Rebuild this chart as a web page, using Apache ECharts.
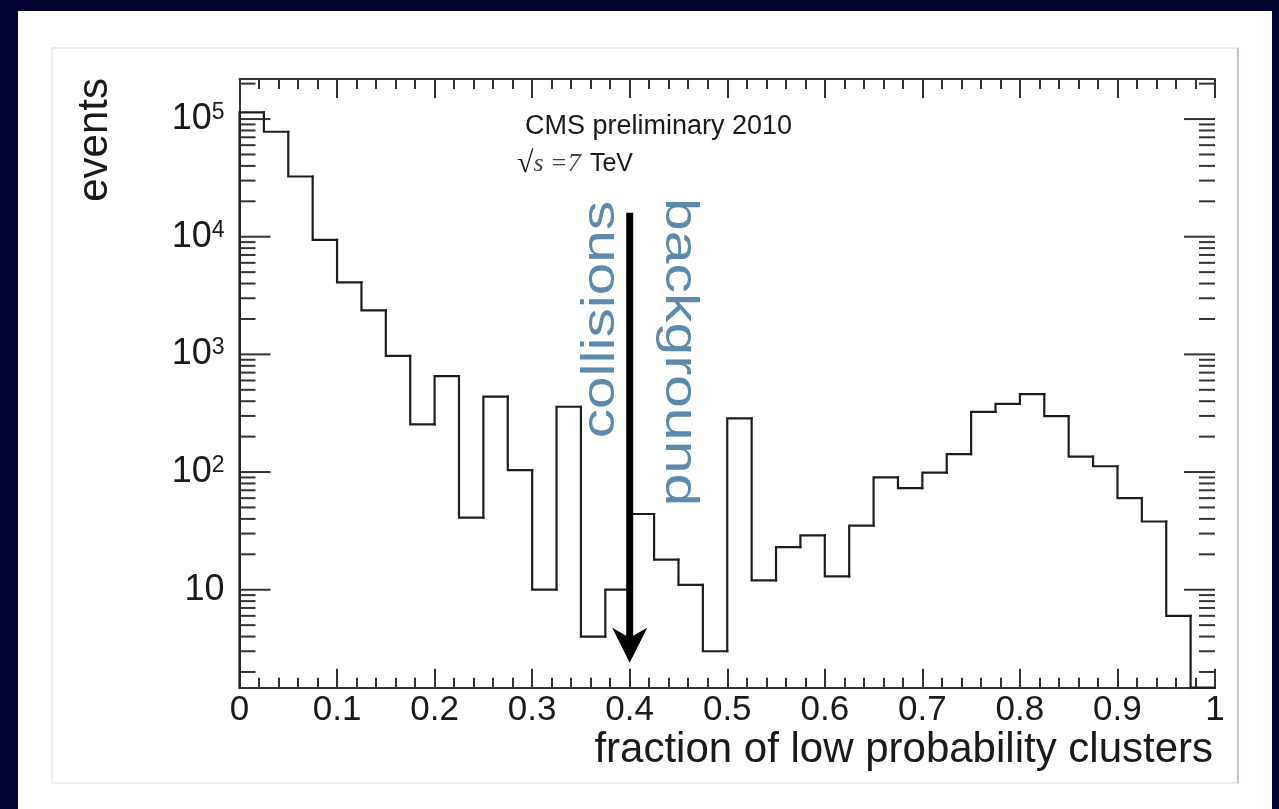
<!DOCTYPE html>
<html>
<head>
<meta charset="utf-8">
<script src="https://cdn.jsdelivr.net/npm/echarts@6/dist/echarts.min.js"></script>
<style>
  html, body { margin: 0; padding: 0; background: #030330; width: 1279px; height: 809px; overflow: hidden; }
  #main { position: absolute; left: 18px; top: 11px; width: 1254px; height: 798px; background: #fff; }
</style>
</head>
<body>
<div id="main"></div>
<script>
// histogram: 40 bins of width 0.025 on [0, 1]
const binWidth = 0.025;
const counts = [114000, 78000, 32500, 9400, 4100, 2370, 970, 254, 653, 41,
                438, 104, 10, 359, 4, 10, 44, 18, 11, 3,
                286, 12, 23, 29, 13, 35, 90, 73, 99, 142,
                325, 379, 460, 299, 135, 112, 60, 38, 6, 0];

// axis ranges and ticks
const yMin = 1.47, yMax = 2.19e5;
const yMajorTicks = [10, 100, 1000, 10000, 100000];
const yMinorMult = [2, 3, 4, 5, 6, 7, 8, 9];
const yDecades = [1, 10, 100, 1000, 10000, 100000];

// collisions / background arrow at x = 0.4
const arrowX = 0.4, arrowTop = 16000, arrowTip = 2.4;

const axisColor = '#333';
const textColor = '#1a1a1a';
const font = 'Liberation Sans, Arial, sans-serif';

let yMinorTicks = [];
yDecades.forEach(d => yMinorMult.forEach(m => {
  const v = m * d;
  if (v > yMin && v < yMax) yMinorTicks.push(v);
}));

const tickData = yMajorTicks.map(v => [0.5, v, 31]).concat(yMinorTicks.map(v => [0.5, v, 16]));
const histData = counts.map((c, i) => [i * binWidth, (i + 1) * binWidth, c]);

let chart = echarts.init(document.getElementById('main'));

function renderHist(params, api) {
  const i = params.dataIndex;
  const cs = params.coordSys;
  const bottom = cs.y + cs.height;
  const yOf = v => (v > 0 ? api.coord([0, v])[1] : bottom);
  const x0 = api.coord([api.value(0), 1])[0];
  const x1 = api.coord([api.value(1), 1])[0];
  const v = api.value(2);
  const prev = i > 0 ? counts[i - 1] : 0;
  return {
    type: 'polyline',
    shape: { points: [[x0, yOf(prev)], [x0, yOf(v)], [x1, yOf(v)]] },
    style: { stroke: '#1e1e1e', lineWidth: 2.2, fill: null, lineJoin: 'miter', lineCap: 'square' }
  };
}

function renderTick(params, api) {
  const cs = params.coordSys;
  const y = api.coord([0.5, api.value(1)])[1];
  const len = api.value(2);
  const st = { stroke: axisColor, lineWidth: 2 };
  return {
    type: 'group',
    children: [
      { type: 'line', shape: { x1: cs.x, y1: y, x2: cs.x + len, y2: y }, style: st },
      { type: 'line', shape: { x1: cs.x + cs.width - len, y1: y, x2: cs.x + cs.width, y2: y }, style: st }
    ]
  };
}

function renderArrow(params, api) {
  const top = api.coord([api.value(0), api.value(1)]);
  const tip = api.coord([api.value(0), api.value(2)]);
  const cx = tip[0];
  return {
    type: 'group',
    children: [
      { type: 'rect', shape: { x: cx - 3.5, y: top[1], width: 7, height: tip[1] - top[1] - 24 }, style: { fill: '#000' } },
      { type: 'polygon', shape: { points: [[cx, tip[1]], [cx + 17.5, tip[1] - 35], [cx, tip[1] - 25], [cx - 17.5, tip[1] - 35]] }, style: { fill: '#000' } }
    ]
  };
}

const option = {
  animation: false,
  textStyle: { fontFamily: font },
  grid: { left: 221.5, right: 57, top: 68, bottom: 121.3 },
  xAxis: [
    {
      type: 'value', min: 0, max: 1, interval: 0.1, position: 'bottom',
      axisLine: { lineStyle: { color: axisColor, width: 2 } },
      axisTick: { inside: true, length: 19, lineStyle: { color: axisColor, width: 2 } },
      minorTick: { show: true, splitNumber: 5, length: 10, lineStyle: { color: axisColor, width: 2 } },
      splitLine: { show: false },
      axisLabel: { color: textColor, fontSize: 35, margin: 5, fontFamily: font },
      name: 'fraction of low probability clusters',
      nameLocation: 'end', nameGap: 0,
      nameTextStyle: { color: textColor, fontSize: 42, fontFamily: font, align: 'right', verticalAlign: 'top', padding: [42, 2, 0, 0] }
    },
    {
      type: 'value', min: 0, max: 1, interval: 0.1, position: 'top',
      axisLine: { lineStyle: { color: axisColor, width: 2 } },
      axisTick: { inside: true, length: 19, lineStyle: { color: axisColor, width: 2 } },
      minorTick: { show: true, splitNumber: 5, length: 10, lineStyle: { color: axisColor, width: 2 } },
      splitLine: { show: false },
      axisLabel: { show: false }
    }
  ],
  yAxis: [
    {
      type: 'log', logBase: 10, min: yMin, max: yMax, position: 'left',
      axisLine: { show: true, lineStyle: { color: axisColor, width: 2 } },
      axisTick: { show: false },
      splitLine: { show: false },
      axisLabel: {
        color: textColor, fontSize: 36, lineHeight: 36, margin: 15, fontFamily: font,
        showMinLabel: false, showMaxLabel: false,
        formatter: function (v) {
          const l = Math.log10(v);
          const e = Math.round(l);
          if (Math.abs(l - e) > 1e-6) return '';
          if (e === 1) return '10';
          return '10{sup|' + e + '}';
        },
        rich: { sup: { fontSize: 23, lineHeight: 12, verticalAlign: 'top', color: textColor, fontFamily: font } }
      }
    },
    {
      type: 'log', logBase: 10, min: yMin, max: yMax, position: 'right',
      axisLine: { show: true, lineStyle: { color: axisColor, width: 2 } },
      axisTick: { show: false },
      splitLine: { show: false },
      axisLabel: { show: false }
    }
  ],
  series: [
    { type: 'custom', name: 'ticks', renderItem: renderTick, data: tickData, encode: { x: 0, y: 1 }, silent: true, z: 3 },
    { type: 'custom', name: 'events', renderItem: renderHist, data: histData, encode: { x: [0, 1], y: 2 }, z: 4 },
    { type: 'custom', name: 'arrow', renderItem: renderArrow, data: [[arrowX, arrowTop, arrowTip]], encode: { x: 0, y: [1, 2] }, silent: true, z: 5 }
  ],
  graphic: [
    { type: 'rect', z: -1, shape: { x: 34, y: 37, width: 1186, height: 735 }, style: { fill: null, stroke: '#e6e6ea', lineWidth: 1.5 } },
    { type: 'line', z: -1, shape: { x1: 1220, y1: 37, x2: 1220, y2: 772 }, style: { stroke: '#c4c4d6', lineWidth: 2 } },
    {
      type: 'text', x: 77.4, y: 67, rotation: Math.PI / 2,
      style: { text: 'events', fontSize: 42, fontFamily: font, fill: textColor, align: 'right', verticalAlign: 'middle' }
    },
    {
      type: 'text', x: 507, y: 116,
      style: { text: 'CMS preliminary 2010', fontSize: 27, fontFamily: font, fill: textColor, align: 'left', verticalAlign: 'middle' }
    },
    {
      type: 'text', x: 499, y: 153,
      style: {
        text: '{r|√}{it|s =7} {n|TeV}', align: 'left', verticalAlign: 'middle',
        rich: {
          r: { fontSize: 30, fontFamily: 'Liberation Serif, serif', fill: '#111', fontWeight: 'bold' },
          it: { fontSize: 26, fontFamily: 'Liberation Serif, serif', fontStyle: 'italic', fill: '#444' },
          n: { fontSize: 25, fontFamily: font, fill: textColor, padding: [0, 0, 0, 6] }
        }
      }
    },
    {
      type: 'text', x: 582.8, y: 427.3, rotation: Math.PI / 2, scaleX: 1.245,
      style: { text: 'collisions', fontSize: 47, fontFamily: font, fill: '#5b8aad', align: 'left', verticalAlign: 'middle' }
    },
    {
      type: 'text', x: 661, y: 187, rotation: -Math.PI / 2, scaleX: 1.255,
      style: { text: 'background', fontSize: 47, fontFamily: font, fill: '#5b8aad', align: 'left', verticalAlign: 'middle' }
    }
  ]
};

chart.setOption(option);
</script>
</body>
</html>
